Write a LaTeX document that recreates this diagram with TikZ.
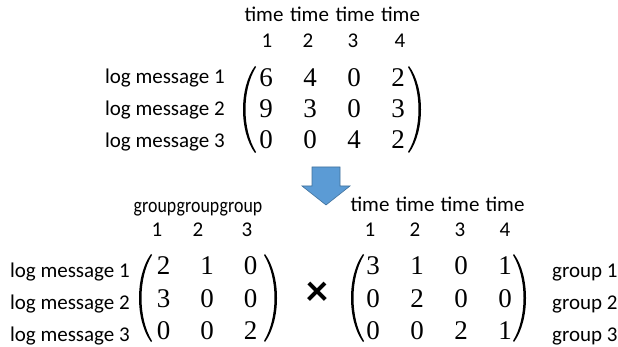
\documentclass[tikz,border=0pt]{standalone}
\usepackage{fontspec}
\setmainfont{Carlito}
\newfontfamily\numfont{Liberation Serif}
\definecolor{arrowblue}{HTML}{5B9BD5}
\definecolor{arrowedge}{HTML}{41719C}
\newcommand\LPar[3]{\fill ({#1+6},{#2}) .. controls ({#1-10},{#2+0.25*(#3-#2)}) and ({#1-10},{#3-0.25*(#3-#2)}) .. ({#1+6},{#3}) -- ({#1+7},{#3-1}) .. controls ({#1-7},{#3-0.27*(#3-#2)}) and ({#1-7},{#2+0.27*(#3-#2)}) .. ({#1+7},{#2+1}) -- cycle;}
\newcommand\RPar[3]{\fill ({#1-6},{#2}) .. controls ({#1+10},{#2+0.25*(#3-#2)}) and ({#1+10},{#3-0.25*(#3-#2)}) .. ({#1-6},{#3}) -- ({#1-7},{#3-1}) .. controls ({#1+7},{#3-0.27*(#3-#2)}) and ({#1+7},{#2+0.27*(#3-#2)}) .. ({#1-7},{#2+1}) -- cycle;}
\begin{document}
\begin{tikzpicture}[x=1pt,y=-1pt,
  num/.style={anchor=base,inner sep=0pt,font=\fontsize{27}{30}\numfont},
  lbl/.style={anchor=base,inner sep=0pt,font=\fontsize{21}{24}\selectfont},
  rowlbl/.style={lbl,anchor=base east},
  grplbl/.style={lbl,anchor=base west}]
\useasboundingbox (0,0) rectangle (618,347);
% ---------- top matrix ----------
\foreach \x [count=\j] in {264,309.5,355,400.5} \node[lbl] (th\j) at (\x,22) {time};
\foreach \x [count=\j] in {267,308,353,400} \node[lbl] (tn\j) at (\x,48) {\j};
\foreach \i in {1,2,3} \node[rowlbl] (tl\i) at (225,{52+32*\i}) {log message \i};
\foreach \row [count=\i] in {{6,4,0,2},{9,3,0,3},{0,0,4,2}}
  \foreach \v [count=\j] in \row
    \node[num] (t\i\j) at ({222+44*\j},{56+31*\i}) {\v};
\LPar{249}{66}{153}
\RPar{415}{66}{153}
% ---------- arrow ----------
\filldraw[fill=arrowblue,draw=arrowedge,line width=0.6pt]
  (312,167) -- (340,167) -- (340,186) -- (350,186) -- (326,205) -- (302,186) -- (312,186) -- cycle;
% ---------- bottom left matrix ----------
\foreach \x [count=\j] in {155,198,241} \node[lbl] (lh\j) at (\x,213) {\scalebox{0.85}[1]{group}};
\foreach \x [count=\j] in {157,198,247} \node[lbl] (ln\j) at (\x,237) {\j};
\foreach \i in {1,2,3} \node[rowlbl] (ll\i) at (130,{245+32*\i}) {log message \i};
\foreach \row [count=\i] in {{2,1,0},{3,0,0},{0,0,2}}
  \foreach \v [count=\j] in \row
    \node[num] (l\i\j) at ({120+43.5*\j},{243+32*\i}) {\v};
\LPar{145}{254}{342}
\RPar{271}{254}{342}
% ---------- times ----------
\node[font=\fontsize{44}{46}\selectfont\bfseries,inner sep=0pt] (times) at (317,294) {×};
% ---------- bottom right matrix ----------
\foreach \x [count=\j] in {370,415,460,505} \node[lbl] (rh\j) at (\x,212) {time};
\foreach \x [count=\j] in {370,415,460,505} \node[lbl] (rn\j) at (\x,237) {\j};
\foreach \i in {1,2,3} \node[grplbl] (rl\i) at (552,{245+32*\i}) {group \i};
\foreach \row [count=\i] in {{3,1,0,1},{0,2,0,0},{0,0,2,1}}
  \foreach \v [count=\j] in \row
    \node[num] (r\i\j) at ({329+44*\j},{243+32*\i}) {\v};
\LPar{357}{254}{342}
\RPar{520}{254}{342}
\end{tikzpicture}
\end{document}
